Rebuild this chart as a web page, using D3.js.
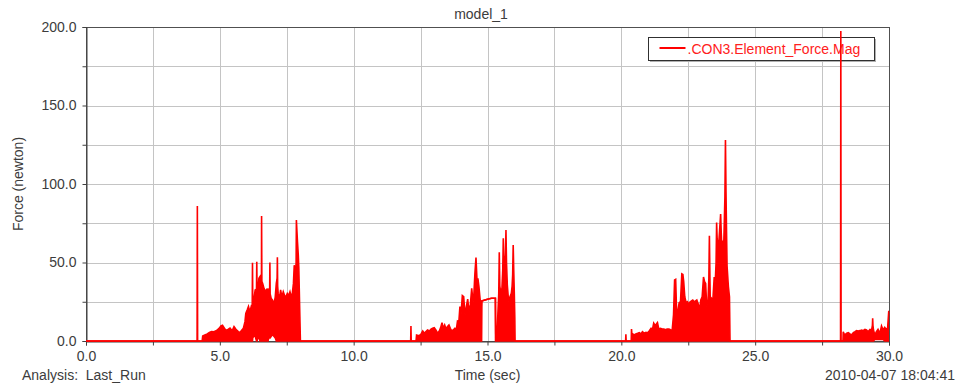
<!DOCTYPE html>
<html>
<head>
<meta charset="utf-8">
<script src="https://cdn.jsdelivr.net/npm/d3@7"></script>
<style>
  body { margin: 0; background: #fff; }
  text { font-family: "Liberation Sans", Arial, sans-serif; }
</style>
</head>
<body>
<svg id="chart" width="961" height="387"></svg>
<script>
// signal samples: [time (sec), upper value, lower value] in newton
var start = [[0, 0, 0], [4.15, 0, 0], [4.16, 86, 0], [4.17, 0, 0]];
var cluster1 = [
  [4.34,0,0],[4.36,3.2,0],[4.44,3.8,0],[4.53,4.5,0],[4.61,5.4,0],[4.69,6,0],[4.78,5.9,0],
  [4.88,6.7,0],[4.98,8.2,0],[5.04,9.6,0],[5.10,10,0],[5.17,8.2,0],[5.23,6.7,0],[5.32,7.5,0],
  [5.38,8.2,0],[5.46,6.5,0],[5.53,9.2,0],[5.60,7.5,0],[5.69,6,0],[5.75,5.4,0],[5.81,6.7,0],
  [5.88,8.2,0],[5.94,12.3,0],[5.97,17.6,0],[6.02,19.7,0],[6.07,22,0],[6.12,18.5,0],[6.17,21.8,0],
  [6.21,20,0],[6.22,49.9,0],[6.23,26,2],[6.27,26.1,3],[6.32,32.5,3],[6.37,33,0],[6.38,50.5,0],
  [6.39,34,0],[6.43,33.5,2],[6.46,39.9,3],[6.50,41,0],[6.54,34.6,0],[6.555,36,0],[6.56,79.6,0],
  [6.57,38,0],[6.60,36.7,0],[6.65,33.5,0],[6.70,31.4,0],[6.75,32.9,0],[6.80,33,0],[6.84,26,3],
  [6.86,28,3],[6.87,50,2],[6.88,30,2],[6.92,27,3],[6.97,26,4],[7.02,23.4,3],[7.07,28,2],
  [7.11,36.7,0],[7.14,40,0],[7.15,53.3,0],[7.16,35,0],[7.18,30.3,0],[7.22,26,0],[7.27,32.5,0],
  [7.32,28,0],[7.37,31.4,0],[7.42,29,0],[7.47,28.2,0],[7.52,30.3,0],[7.57,29,0],[7.62,31.4,0],
  [7.67,28,0],[7.71,30.5,0],[7.75,36.7,0],[7.78,48.3,0],[7.82,40,0],[7.85,50,0],[7.86,77,0],
  [7.88,70,0],[7.90,63.3,0],[7.93,55,0],[7.95,47,0],[7.99,15.5,0],[8.01,0,0]
];
var cluster2 = [
  [12.13,0,0],[12.14,9.6,0],[12.15,0,0],
  [12.33,0,0],[12.35,3.8,0],[12.44,3.4,0],[12.51,4.2,0],[12.58,6.4,0],[12.64,4.9,0],[12.70,6,0],
  [12.76,7,0],[12.83,6.4,0],[12.89,7.6,0],[12.95,8.1,0],[13.01,8.5,0],[13.07,7,0],[13.14,4.9,0],
  [13.20,6.4,0],[13.25,8.5,0],[13.30,11.7,0],[13.35,8.1,0],[13.40,10.2,0],[13.45,7.6,0],
  [13.50,9.1,0],[13.56,10.2,0],[13.61,8.1,0],[13.66,6.4,0],[13.72,7,0],[13.78,8.1,0],
  [13.83,6.4,0],[13.88,12.7,0],[13.93,12.3,0],[13.97,21.9,0],[14.00,14.5,0],[14.06,28.9,0],
  [14.11,28.2,0],[14.16,16.6,0],[14.21,21.9,0],[14.26,26.7,0],[14.31,18.6,0],[14.36,23.3,0],
  [14.41,33.5,0],[14.46,25,0],[14.49,29.3,0],[14.53,43.1,0],[14.57,53.1,0],[14.61,37.8,0],
  [14.64,39.9,0],[14.68,34.6,0],[14.72,27.2,0],[14.76,20.8,0],[14.78,25.5,0],
  [14.79,25.5,25.5],[15.03,26.7,26.7],[15.15,27.2,27.2],[15.29,27.2,27.2],
  [15.30,27.2,0],[15.31,1.7,0],[15.37,10.2,0],[15.42,30,0],[15.44,56.5,0],[15.46,35,0],
  [15.49,31.4,0],[15.54,33.5,0],[15.57,45,0],[15.59,65.4,0],[15.61,50,0],[15.64,46.3,0],
  [15.67,55,0],[15.69,70.7,0],[15.71,50,0],[15.74,35.7,0],[15.79,25,0],[15.84,28.2,0],
  [15.89,30.4,0],[15.92,35,0],[15.94,42,0],[15.96,61.1,0],[15.98,45,0],[16.00,31.4,0],
  [16.02,15,0],[16.03,0,0]
];
var cluster3 = [
  [20.16,0,0],[20.17,4.2,0],[20.18,0,0],
  [20.37,0,0],[20.38,7.6,0],[20.40,3,0],[20.42,4.5,0],[20.48,3.8,0],[20.54,4.5,0],[20.61,4.9,0],
  [20.67,5.3,0],[20.73,4.5,0],[20.79,5.9,0],[20.86,4.9,0],[20.92,5.5,0],[20.98,5.3,0],
  [21.04,6.4,0],[21.11,8.1,0],[21.16,7,0],[21.21,11.3,0],[21.25,10.2,0],[21.30,10.6,0],
  [21.35,11.7,0],[21.40,7.6,0],[21.46,8.1,0],[21.53,7.6,0],[21.59,7.6,0],[21.65,7.2,0],
  [21.71,7.6,0],[21.78,7.6,0],[21.84,7.2,0],[21.90,7,0],[21.95,16.6,0],[21.99,38.9,0],
  [22.03,39.3,0],[22.07,15.3,0],[22.11,18.7,0],[22.16,24.4,0],[22.21,25,0],[22.26,42.8,0],
  [22.30,42.4,0],[22.33,37.8,0],[22.37,28.2,0],[22.42,24.4,0],[22.47,25,0],[22.52,23.3,0],
  [22.57,25,0],[22.62,25.5,0],[22.67,26.1,0],[22.72,25,0],[22.77,25.5,0],[22.82,26.1,0],
  [22.87,23.8,0],[22.92,19.7,0],[22.97,26.1,0],[23.02,28.2,0],[23.07,40.8,0],[23.11,37.8,0],
  [23.15,36.7,0],[23.19,21.9,0],[23.24,26.1,0],[23.27,40,0],[23.29,67.1,0],[23.31,40,0],
  [23.32,28.2,0],[23.37,27.2,0],[23.42,26.1,0],[23.47,40.8,0],[23.51,37.8,0],[23.54,50,0],
  [23.56,75.4,0],[23.58,65,0],[23.60,62.2,0],[23.63,59.7,0],[23.67,70,0],[23.71,80.9,0],
  [23.73,70,0],[23.75,62.2,0],[23.79,63.3,0],[23.83,63.9,0],[23.87,91.9,0],[23.89,128,0],
  [23.91,95,0],[23.93,70,0],[23.95,47.7,0],[24.00,34.5,0],[24.04,28.2,0],[24.06,0,0]
];
var cluster4 = [
  [28.19,0,0],[28.20,197.5,0],[28.21,0,0],
  [28.28,0,0],[28.29,5.9,0],[28.34,3.8,0],[28.42,4.9,0],[28.48,5.3,0],[28.54,4.5,0],
  [28.60,3.8,0],[28.67,5.3,0],[28.73,5.9,0],[28.79,6.6,0],[28.85,6.4,0],[28.91,6.6,0],
  [28.98,7,0],[29.04,6.6,0],[29.10,7.4,0],[29.16,7,0],[29.22,5.9,0],[29.29,7.4,0],[29.35,7,0],
  [29.38,10,0],[29.39,14.4,0],[29.40,10,0],[29.42,7,0],[29.47,3.8,1],[29.53,5.9,1],
  [29.59,7.4,1],[29.66,4.9,1],[29.72,9.6,1],[29.78,7,1],[29.84,8.7,0],[29.90,7.4,0],
  [29.95,8.5,0],[29.99,18.7,0],[30,18.7,0]
];

var xTicks = d3.range(0, 30.01, 2.5);
var yTicks = d3.range(0, 200.01, 25);
var seriesName = ".CON3.Element_Force.Mag";

var svg = d3.select("#chart");
var margin = {left: 86, top: 27, right: 72, bottom: 46};
var width = 961 - margin.left - margin.right;
var height = 387 - margin.top - margin.bottom;
var textColor = "#3c3c3c";

var x = d3.scaleLinear().domain([0, 30]).range([margin.left, margin.left + width]);
var y = d3.scaleLinear().domain([0, 200]).range([margin.top + height, margin.top]);

svg.append("defs").append("clipPath").attr("id", "plotClip")
  .append("rect")
  .attr("x", margin.left).attr("y", margin.top - 1)
  .attr("width", width + 1).attr("height", height + 2);

// grid
var grid = svg.append("g");
grid.selectAll("line.v").data(xTicks.slice(1, -1)).enter().append("line")
  .attr("x1", d => Math.round(x(d)) + 0.5).attr("x2", d => Math.round(x(d)) + 0.5)
  .attr("y1", margin.top).attr("y2", margin.top + height)
  .attr("stroke", "#c4c4c4");
grid.selectAll("line.h").data(yTicks.slice(1, -1)).enter().append("line")
  .attr("y1", d => Math.round(y(d)) + 0.5).attr("y2", d => Math.round(y(d)) + 0.5)
  .attr("x1", margin.left).attr("x2", margin.left + width)
  .attr("stroke", "#c4c4c4");

// frame
svg.append("rect")
  .attr("x", margin.left + 0.5).attr("y", margin.top + 0.5)
  .attr("width", width).attr("height", height)
  .attr("fill", "none").attr("stroke", "#505050");

// axes
var xAxis = d3.axisBottom(x).tickValues(xTicks).tickSize(4).tickPadding(6)
  .tickFormat(d => d % 5 === 0 ? d3.format(".1f")(d) : "");
var yAxis = d3.axisLeft(y).tickValues(yTicks).tickSize(4).tickPadding(6)
  .tickFormat(d => d % 50 === 0 ? d3.format(".1f")(d) : "");

var gx = svg.append("g").attr("transform", "translate(0," + (margin.top + height + 0.5) + ")").call(xAxis);
var gy = svg.append("g").attr("transform", "translate(" + (margin.left + 0.5) + ",0)").call(yAxis);
[gx, gy].forEach(g => {
  g.select(".domain").attr("stroke", "#404040");
  g.selectAll(".tick line").attr("stroke", "#404040");
  g.selectAll(".tick text").attr("fill", textColor).style("font-size", "14px");
});

// legend
var legend = svg.append("g").attr("transform", "translate(648.5,37.5)");
legend.append("rect").attr("x", 1.5).attr("y", 1.5).attr("width", 226).attr("height", 23).attr("fill", "#b0b0b0");
legend.append("rect").attr("width", 226).attr("height", 23).attr("fill", "#fff").attr("stroke", "#303030");
legend.append("line").attr("x1", 11).attr("x2", 37).attr("y1", 10.5).attr("y2", 10.5)
  .attr("stroke", "#ff0000").attr("stroke-width", 2);
legend.append("text").attr("x", 39).attr("y", 16.5).attr("fill", "#ff2020")
  .style("font-size", "14px").text(seriesName);

// signal
var data = start.concat(cluster1, cluster2, cluster3, cluster4);
var plot = svg.append("g").attr("clip-path", "url(#plotClip)");
plot.append("path").datum(data)
  .attr("fill", "#ff0000")
  .attr("d", d3.area().x(d => x(d[0])).y0(d => y(d[2])).y1(d => y(d[1])));
plot.append("path").datum(data)
  .attr("fill", "none").attr("stroke", "#ff0000").attr("stroke-width", 1.6)
  .attr("d", d3.line().x(d => x(d[0])).y(d => y(d[1])));
plot.append("path").datum(data)
  .attr("fill", "none").attr("stroke", "#ff0000").attr("stroke-width", 1.6)
  .attr("d", d3.line().x(d => x(d[0])).y(d => y(d[2])));

// texts
svg.append("text").attr("x", 481).attr("y", 19).attr("text-anchor", "middle")
  .attr("fill", textColor).style("font-size", "14px").text("model_1");
svg.append("text").attr("transform", "translate(23," + (margin.top + height / 2) + ") rotate(-90)")
  .attr("text-anchor", "middle").attr("fill", textColor).style("font-size", "14px")
  .text("Force (newton)");
svg.append("text").attr("x", 22).attr("y", 380).attr("fill", textColor)
  .style("font-size", "14px").style("white-space", "pre").text("Analysis:  Last_Run");
svg.append("text").attr("x", margin.left + width / 2).attr("y", 380).attr("text-anchor", "middle")
  .attr("fill", textColor).style("font-size", "14px").text("Time (sec)");
svg.append("text").attr("x", 955).attr("y", 380).attr("text-anchor", "end")
  .attr("fill", textColor).style("font-size", "14px").text("2010-04-07 18:04:41");
</script>
</body>
</html>
